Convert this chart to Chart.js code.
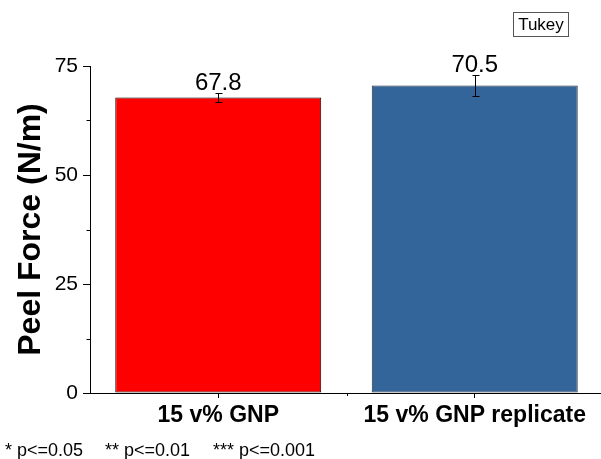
<!DOCTYPE html>
<html>
<head>
<meta charset="utf-8">
<script src="https://cdn.jsdelivr.net/npm/chart.js@4/dist/chart.umd.min.js"></script>
<style>
  html, body { margin: 0; padding: 0; background: #fff; }
  #wrap { position: relative; width: 601px; height: 459px; overflow: hidden; font-family: "Liberation Sans", Arial, sans-serif; }
  #c { position: absolute; left: 0; top: 0; }
  #tukey { position: absolute; left: 513px; top: 12px; width: 54px; height: 23px; border: 1px solid #555;
           font-size: 17px; line-height: 17px; display: flex; align-items: center; justify-content: center; color: #000; }
  .note { position: absolute; top: 441px; font-size: 18px; line-height: 18px; color: #000; white-space: pre; }
</style>
</head>
<body>
<div id="wrap">
  <canvas id="c" width="604" height="459"></canvas>
  <div id="tukey">Tukey</div>
  <div class="note" style="left:5px">* p&lt;=0.05</div>
  <div class="note" style="left:105px">** p&lt;=0.01</div>
  <div class="note" style="left:213px">*** p&lt;=0.001</div>
</div>
<script>
const categories = ['15 v% GNP', '15 v% GNP replicate'];
const peelForce = [67.8, 70.5];
const peelError = [1.1, 2.4];
const yTickValues = [0, 25, 50, 75];
const yMinorTickValues = [12.5, 37.5, 62.5];

const barColors = ['#ff0000', '#34659a'];
const barBorders = ['#000000', '#2a2f36'];
const FONT = '"Liberation Sans", Arial, sans-serif';

const extrasPlugin = {
  id: 'extras',
  afterDatasetsDraw(chart) {
    const ctx = chart.ctx;
    const ys = chart.scales.y;
    const xs = chart.scales.x;
    const meta = chart.getDatasetMeta(0);
    ctx.save();
    ctx.strokeStyle = '#000';
    ctx.lineWidth = 1;
    meta.data.forEach((bar, i) => {
      const x = Math.round(bar.x) + 0.5;
      const yt = Math.round(ys.getPixelForValue(peelForce[i] + peelError[i])) + 0.5;
      const yb = Math.round(ys.getPixelForValue(peelForce[i] - peelError[i])) + 0.5;
      ctx.beginPath();
      ctx.moveTo(x, yt); ctx.lineTo(x, yb);
      ctx.moveTo(x - 3, yt); ctx.lineTo(x + 4, yt);
      ctx.moveTo(x - 3, yb); ctx.lineTo(x + 4, yb);
      ctx.stroke();
      ctx.fillStyle = '#000';
      ctx.font = '24px ' + FONT;
      ctx.textAlign = 'center';
      ctx.textBaseline = 'alphabetic';
      ctx.fillText(peelForce[i].toFixed(1), bar.x, yt - 4);
    });
    const ax = Math.round(chart.chartArea.left) + 0.5;
    ctx.beginPath();
    yMinorTickValues.forEach(v => {
      const py = Math.round(ys.getPixelForValue(v)) + 0.5;
      ctx.moveTo(ax - 4, py); ctx.lineTo(ax, py);
    });
    const mx = Math.round((xs.getPixelForValue(0) + xs.getPixelForValue(1)) / 2) + 0.5;
    const by = Math.round(chart.chartArea.bottom);
    ctx.moveTo(mx, by); ctx.lineTo(mx, by + 3);
    ctx.stroke();
    ctx.restore();
  }
};

new Chart(document.getElementById('c'), {
  type: 'bar',
  data: {
    labels: categories,
    datasets: [{
      data: peelForce,
      backgroundColor: barColors,
      borderColor: barBorders,
      borderWidth: 1,
      borderSkipped: false,
      categoryPercentage: 1.0,
      barPercentage: 0.803
    }]
  },
  options: {
    responsive: false,
    animation: false,
    devicePixelRatio: 1,
    layout: { padding: { top: 66, right: 1, bottom: 0, left: 0 } },
    plugins: { legend: { display: false }, tooltip: { enabled: false } },
    scales: {
      x: {
        type: 'category',
        offset: true,
        grid: { display: true, drawOnChartArea: false, drawTicks: true, tickLength: 5, offset: false, color: '#000' },
        border: { display: true, color: '#000', width: 1 },
        ticks: { color: '#000', padding: 4, maxRotation: 0, font: { family: FONT, size: 23, weight: 'bold' } },
        afterFit(scale) { scale.height = 66; }
      },
      y: {
        min: 0, max: 75,
        afterBuildTicks(scale) { scale.ticks = yTickValues.map(v => ({ value: v })); },
        grid: { display: true, drawOnChartArea: false, drawTicks: true, tickLength: 7, color: '#000' },
        border: { display: true, color: '#000', width: 1 },
        ticks: { color: '#000', padding: 5, font: { family: FONT, size: 21 } },
        title: { display: true, text: 'Peel Force (N/m)', color: '#000', padding: { top: 12, bottom: 0 },
                 font: { family: FONT, size: 32, weight: 'bold' } },
        afterFit(scale) { scale.width = 90; }
      }
    }
  },
  plugins: [extrasPlugin]
});
</script>
</body>
</html>
